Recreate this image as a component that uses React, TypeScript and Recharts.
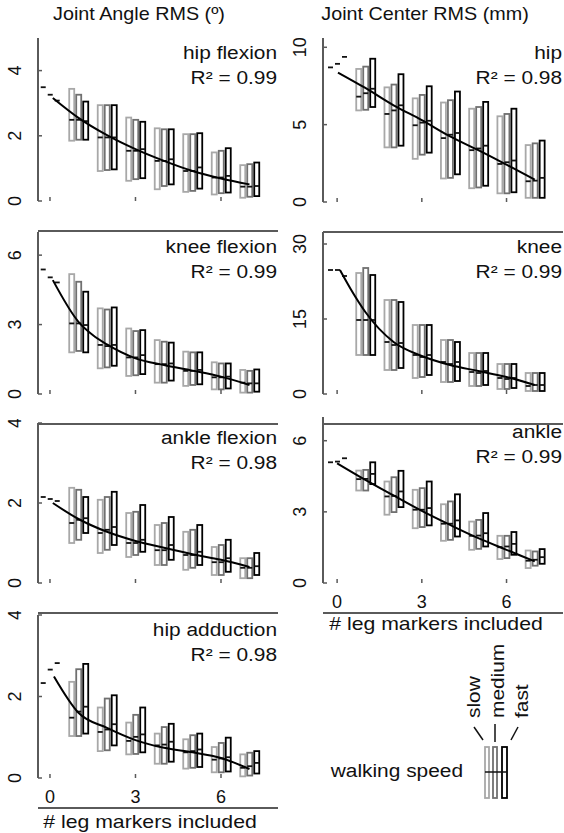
import React from "react";
import { ComposedChart, Bar, Line, XAxis, YAxis } from "recharts";

type Triple = [number, number, number]; // [low, median, high]
type Speed = "slow" | "medium" | "fast";

const FONT = "'Liberation Sans', Arial, Helvetica, sans-serif";
const AXIS = "#5a5a5a";
const INK = "#111";
const SPEED_COLORS: Record<Speed, string> = { slow: "#a8a8a8", medium: "#707070", fast: "#000000" };

const markers = [0, 1, 2, 3, 4, 5, 6, 7];
const xTicks = [0, 3, 6];

// ---- Joint angle RMS (deg) ----
const hipFlexionSlow: Triple[] = [[3.49, 3.49, 3.49], [1.85, 2.49, 3.44], [0.92, 1.95, 2.94], [0.62, 1.54, 2.56], [0.36, 1.23, 2.23], [0.28, 0.92, 2.05], [0.2, 0.72, 1.49], [0.1, 0.44, 1.1]];
const hipFlexionMedium: Triple[] = [[3.26, 3.26, 3.26], [1.88, 2.49, 3.26], [0.95, 1.95, 2.94], [0.67, 1.54, 2.49], [0.46, 1.23, 2.2], [0.31, 0.92, 2.05], [0.24, 0.72, 1.54], [0.13, 0.44, 1.13]];
const hipFlexionFast: Triple[] = [[3.08, 3.08, 3.08], [1.88, 2.45, 3.05], [0.97, 1.95, 2.94], [0.7, 1.59, 2.43], [0.51, 1.28, 2.2], [0.38, 1.03, 2.08], [0.26, 0.77, 1.62], [0.15, 0.46, 1.18]];
const hipFlexionFit = [[0.1, 3.16], [1, 2.55], [2, 2.02], [3, 1.59], [4, 1.23], [5, 0.92], [6, 0.69], [7, 0.51]];

const kneeFlexionSlow: Triple[] = [[5.38, 5.38, 5.38], [1.8, 3.05, 5.18], [1.11, 2.12, 3.7], [0.78, 1.58, 2.83], [0.49, 1.29, 2.33], [0.35, 1.0, 1.83], [0.2, 0.72, 1.37], [0.06, 0.49, 1.04]];
const kneeFlexionMedium: Triple[] = [[5.04, 5.04, 5.04], [1.86, 3.05, 4.85], [1.15, 2.07, 3.65], [0.81, 1.58, 2.72], [0.49, 1.29, 2.26], [0.39, 1.0, 1.8], [0.2, 0.72, 1.32], [0.06, 0.46, 1.0]];
const kneeFlexionFast: Triple[] = [[4.82, 4.82, 4.82], [1.8, 2.98, 4.42], [1.22, 2.12, 3.74], [0.86, 1.68, 2.76], [0.58, 1.32, 2.22], [0.42, 1.04, 1.8], [0.24, 0.75, 1.32], [0.1, 0.46, 1.06]];
const kneeFlexionFit = [[0.1, 4.92], [1, 3.12], [1.5, 2.55], [2, 2.14], [3, 1.54], [4, 1.25], [5, 1.01], [6, 0.75], [7, 0.39]];

const ankleFlexionSlow: Triple[] = [[2.15, 2.15, 2.15], [1.0, 1.5, 2.38], [0.75, 1.25, 2.08], [0.65, 1.0, 1.75], [0.45, 0.82, 1.45], [0.33, 0.7, 1.28], [0.2, 0.52, 0.9], [0.12, 0.38, 0.62]];
const ankleFlexionMedium: Triple[] = [[2.1, 2.1, 2.1], [1.08, 1.58, 2.33], [0.83, 1.33, 2.15], [0.7, 1.0, 1.78], [0.45, 0.82, 1.5], [0.38, 0.7, 1.33], [0.2, 0.52, 0.95], [0.12, 0.38, 0.62]];
const ankleFlexionFast: Triple[] = [[2.05, 2.05, 2.05], [1.25, 1.62, 2.15], [0.95, 1.4, 2.28], [0.78, 1.08, 1.95], [0.58, 0.95, 1.65], [0.45, 0.78, 1.45], [0.28, 0.62, 1.08], [0.2, 0.42, 0.75]];
const ankleFlexionFit = [[0.1, 2.0], [1, 1.6], [2, 1.28], [3, 1.05], [4, 0.88], [5, 0.72], [6, 0.58], [7, 0.4]];

const hipAdductionSlow: Triple[] = [[2.33, 2.33, 2.33], [1.03, 1.48, 2.36], [0.66, 1.13, 1.73], [0.58, 0.91, 1.36], [0.35, 0.8, 1.09], [0.23, 0.63, 0.95], [0.14, 0.45, 0.76], [0.04, 0.25, 0.58]];
const hipAdductionMedium: Triple[] = [[2.66, 2.66, 2.66], [1.03, 1.63, 2.67], [0.68, 1.19, 1.95], [0.59, 1.01, 1.55], [0.35, 0.82, 1.25], [0.25, 0.66, 1.05], [0.14, 0.48, 0.86], [0.06, 0.29, 0.62]];
const hipAdductionFast: Triple[] = [[2.82, 2.82, 2.82], [1.09, 1.75, 2.8], [0.8, 1.32, 2.03], [0.63, 1.07, 1.73], [0.4, 0.89, 1.33], [0.27, 0.7, 1.09], [0.16, 0.51, 0.99], [0.11, 0.37, 0.66]];
const hipAdductionFit = [[0.14, 2.49], [1, 1.6], [2, 1.23], [3, 0.93], [4, 0.74], [5, 0.63], [6, 0.49], [7, 0.22]];

// ---- Joint center RMS (mm) ----
const hipCenterSlow: Triple[] = [[8.7, 8.7, 8.7], [5.92, 6.81, 8.6], [3.53, 5.69, 7.41], [2.79, 4.96, 6.7], [1.52, 4.13, 6.43], [0.89, 3.35, 6.03], [0.56, 2.46, 5.54], [0.27, 1.34, 3.68]];
const hipCenterMedium: Triple[] = [[8.93, 8.93, 8.93], [5.96, 7.03, 8.75], [3.53, 5.92, 7.59], [3.06, 5.13, 6.92], [1.56, 4.35, 6.58], [0.94, 3.46, 6.14], [0.56, 2.57, 5.69], [0.27, 1.38, 3.79]];
const hipCenterFast: Triple[] = [[9.38, 9.38, 9.38], [6.14, 7.32, 9.26], [3.64, 6.25, 8.26], [3.19, 5.25, 7.48], [1.79, 4.46, 7.14], [1.05, 3.64, 6.47], [0.63, 2.68, 6.03], [0.27, 1.56, 3.97]];
const hipCenterFit = [[0.03, 8.37], [1, 7.37], [2, 6.25], [3, 5.29], [4, 4.24], [5, 3.35], [6, 2.41], [7, 1.45]];

const kneeCenterSlow: Triple[] = [[24.8, 24.8, 24.8], [7.8, 14.8, 24.2], [4.8, 10.4, 18.8], [3.2, 7.8, 13.8], [2.4, 6.4, 10.8], [1.6, 4.4, 8.2], [1.0, 3.2, 6.0], [0.6, 1.6, 4.2]];
const kneeCenterMedium: Triple[] = [[24.8, 24.8, 24.8], [7.8, 14.8, 25.2], [4.8, 9.8, 18.8], [3.4, 7.4, 13.8], [2.4, 6.0, 10.8], [1.6, 4.2, 8.2], [1.0, 3.0, 6.0], [0.6, 1.8, 4.2]];
const kneeCenterFast: Triple[] = [[23.6, 23.6, 23.6], [7.8, 14.8, 23.8], [5.2, 10.2, 18.4], [3.8, 7.8, 13.8], [2.6, 6.4, 10.4], [1.8, 4.6, 8.2], [1.2, 3.2, 6.0], [0.6, 1.8, 4.2]];
const kneeCenterFit = [[0.1, 24.8], [0.5, 20.8], [1, 16.4], [2, 10.4], [3, 7.6], [4, 5.8], [5, 4.6], [6, 3.4], [7, 1.8]];

const ankleCenterSlow: Triple[] = [[5.09, 5.09, 5.09], [3.9, 4.38, 4.74], [2.88, 3.65, 4.28], [2.31, 3.09, 3.93], [1.78, 2.5, 3.32], [1.4, 1.99, 2.59], [1.01, 1.51, 1.99], [0.63, 0.94, 1.37]];
const ankleCenterMedium: Triple[] = [[5.12, 5.12, 5.12], [3.9, 4.39, 4.77], [2.99, 3.67, 4.46], [2.36, 3.09, 4.0], [1.82, 2.5, 3.44], [1.44, 2.0, 2.66], [1.05, 1.54, 1.99], [0.73, 0.98, 1.33]];
const ankleCenterFast: Triple[] = [[5.26, 5.26, 5.26], [4.17, 4.6, 5.09], [3.2, 3.86, 4.73], [2.43, 3.16, 4.28], [1.96, 2.64, 3.74], [1.54, 2.1, 2.95], [1.19, 1.65, 2.15], [0.81, 1.09, 1.43]];
const ankleCenterFit = [[0, 5.05], [1, 4.35], [2, 3.69], [3, 3.04], [4, 2.45], [5, 1.89], [6, 1.4], [7, 0.91]];

interface Panel {
  name: string;
  r2: string;
  left: number;
  top: number;
  plotH: number;
  xDomain: [number, number];
  yDomain: [number, number];
  yTicks: number[];
  showX: boolean;
  slow: Triple[];
  medium: Triple[];
  fast: Triple[];
  fit: number[][];
}

const panels: Panel[] = [
  { name: "hip flexion", r2: "0.99", left: 0, top: 38, plotH: 163, xDomain: [-0.42, 8], yDomain: [0, 5], yTicks: [0, 2, 4], showX: false, slow: hipFlexionSlow, medium: hipFlexionMedium, fast: hipFlexionFast, fit: hipFlexionFit },
  { name: "knee flexion", r2: "0.99", left: 0, top: 232, plotH: 162, xDomain: [-0.42, 8], yDomain: [0, 7], yTicks: [0, 3, 6], showX: false, slow: kneeFlexionSlow, medium: kneeFlexionMedium, fast: kneeFlexionFast, fit: kneeFlexionFit },
  { name: "ankle flexion", r2: "0.98", left: 0, top: 423, plotH: 160, xDomain: [-0.42, 8], yDomain: [0, 4], yTicks: [0, 2, 4], showX: false, slow: ankleFlexionSlow, medium: ankleFlexionMedium, fast: ankleFlexionFast, fit: ankleFlexionFit },
  { name: "hip adduction", r2: "0.98", left: 0, top: 615, plotH: 163, xDomain: [-0.42, 8], yDomain: [0, 4], yTicks: [0, 2, 4], showX: true, slow: hipAdductionSlow, medium: hipAdductionMedium, fast: hipAdductionFast, fit: hipAdductionFit },
  { name: "hip", r2: "0.98", left: 285, top: 38, plotH: 164, xDomain: [-0.5, 8], yDomain: [0, 10.6], yTicks: [0, 5, 10], showX: false, slow: hipCenterSlow, medium: hipCenterMedium, fast: hipCenterFast, fit: hipCenterFit },
  { name: "knee", r2: "0.99", left: 285, top: 232, plotH: 162, xDomain: [-0.5, 8], yDomain: [0, 32.4], yTicks: [0, 15, 30], showX: false, slow: kneeCenterSlow, medium: kneeCenterMedium, fast: kneeCenterFast, fit: kneeCenterFit },
  { name: "ankle", r2: "0.99", left: 285, top: 417, plotH: 166, xDomain: [-0.5, 8], yDomain: [0, 7], yTicks: [0, 3, 6], showX: true, slow: ankleCenterSlow, medium: ankleCenterMedium, fast: ankleCenterFast, fit: ankleCenterFit },
];

const CHART_W = 280;
const Y_W = 38;
const X_H = 34;
const M_TOP = 4;
const M_RIGHT = 2;

// text drawn a little wider than the font, like the original figure
function SText({ x, y, size = 18, k = 1.16, anchor = "start", rotate = 0, children }: any) {
  return (
    <text
      transform={`translate(${x} ${y}) rotate(${rotate}) scale(${k} 1)`}
      textAnchor={anchor}
      fontSize={size}
      fontFamily={FONT}
      fill={INK}
    >
      {children}
    </text>
  );
}

// y tick: rotated label left of the axis, short inward tick mark
const YTick = (props: any) => {
  const { y, payload } = props;
  const ax = Y_W;
  const lx = ax - 17;
  return (
    <g>
      <line x1={ax} x2={ax + 4} y1={y} y2={y} stroke={AXIS} strokeWidth={1.5} />
      <text x={lx} y={y} transform={`rotate(-90 ${lx} ${y})`} textAnchor="middle" fontSize={18} fontFamily={FONT} fill={INK}>
        {payload?.value}
      </text>
    </g>
  );
};

// x tick: inward tick mark; label only on the bottom row
const makeXTick = (showLabel: boolean, axisY: number) => (props: any) => {
  const { x, payload } = props;
  return (
    <g>
      <line x1={x} x2={x} y1={axisY} y2={axisY - 4} stroke={AXIS} strokeWidth={1.5} />
      {showLabel ? (
        <text x={x} y={axisY + 25} textAnchor="middle" fontSize={18} fontFamily={FONT} fill={INK}>
          {payload?.value}
        </text>
      ) : null}
    </g>
  );
};

const rangeOf = (speed: Speed) => (d: any) => {
  const t = d && d[speed];
  return t ? [t[0], t[2]] : null;
};

const makeBoxShape = (speed: Speed) => (props: any) => {
  const { x, y, width, height, payload } = props;
  const t = payload ? (payload[speed] as Triple | undefined) : undefined;
  if (!t || !Number.isFinite(x) || !Number.isFinite(y)) return <g />;
  const [lo, med, hi] = t;
  const h = Math.abs(height || 0);
  const top = Math.min(y, y + (height || 0));
  const my = hi === lo ? top : top + (h * (hi - med)) / (hi - lo);
  return (
    <g>
      {h > 0 ? (
        <rect x={x} y={top} width={width} height={h} fill="none" stroke={SPEED_COLORS[speed]} strokeWidth={1.8} />
      ) : null}
      <line x1={x} x2={x + width} y1={my} y2={my} stroke={INK} strokeWidth={1.8} />
    </g>
  );
};

function PanelChart({ p }: { p: Panel }) {
  const data = markers.map((n, i) => ({ n, slow: p.slow[i], medium: p.medium[i], fast: p.fast[i] }));
  const fitData = p.fit.map(([n, v]) => ({ n, fit: v }));
  const height = M_TOP + p.plotH + X_H;
  return (
    <div style={{ position: "absolute", left: p.left, top: p.top - M_TOP }}>
      <ComposedChart width={CHART_W} height={height} data={data} margin={{ top: M_TOP, right: M_RIGHT, left: 0, bottom: 0 }} barGap={2}>
        <XAxis
          xAxisId="main"
          type="number"
          dataKey="n"
          domain={p.xDomain}
          ticks={xTicks}
          interval={0}
          allowDataOverflow
          height={X_H}
          tickSize={0}
          tickLine={false}
          axisLine={{ stroke: AXIS, strokeWidth: 2 }}
          tick={makeXTick(p.showX, M_TOP + p.plotH)}
        />
        <XAxis xAxisId="fit" type="number" dataKey="n" domain={p.xDomain} allowDataOverflow hide />
        <YAxis
          type="number"
          domain={p.yDomain}
          ticks={p.yTicks}
          interval={0}
          allowDataOverflow
          width={Y_W}
          tickSize={0}
          tickLine={false}
          axisLine={{ stroke: AXIS, strokeWidth: 2 }}
          tick={YTick}
        />
        <Bar xAxisId="main" dataKey={rangeOf("slow")} barSize={5} shape={makeBoxShape("slow")} isAnimationActive={false} />
        <Bar xAxisId="main" dataKey={rangeOf("medium")} barSize={5} shape={makeBoxShape("medium")} isAnimationActive={false} />
        <Bar xAxisId="main" dataKey={rangeOf("fast")} barSize={5} shape={makeBoxShape("fast")} isAnimationActive={false} />
        <Line xAxisId="fit" data={fitData} dataKey="fit" type="monotone" stroke="#000" strokeWidth={2} dot={false} isAnimationActive={false} />
      </ComposedChart>
    </div>
  );
}

export default function App() {
  return (
    <div style={{ position: "absolute", left: 0, top: 0, width: 564, height: 833, background: "#fff", overflow: "hidden" }}>
      {panels.map((p) => (
        <PanelChart key={p.name + p.left} p={p} />
      ))}
      <svg width={564} height={833} style={{ position: "absolute", left: 0, top: 0, pointerEvents: "none" }}>
        <SText x={139} y={20} size={19} k={1.04} anchor="middle">Joint Angle RMS (º)</SText>
        <SText x={425} y={20} size={19} k={1.04} anchor="middle">Joint Center RMS (mm)</SText>
        {panels.map((p) => {
          const right = p.left + CHART_W - M_RIGHT - 1;
          return (
            <g key={"lbl" + p.name + p.left}>
              <SText x={right} y={p.top + 21} anchor="end">{p.name}</SText>
              <SText x={right} y={p.top + 46} anchor="end">{`R² = ${p.r2}`}</SText>
            </g>
          );
        })}
        <SText x={150} y={828} k={1.18} anchor="middle"># leg markers included</SText>
        <SText x={436} y={630} k={1.18} anchor="middle"># leg markers included</SText>
        {/* walking speed legend */}
        <SText x={463} y={777} anchor="end">walking speed</SText>
        <rect x={485} y={747} width={4} height={51} fill="none" stroke={SPEED_COLORS.slow} strokeWidth={1.8} />
        <rect x={493} y={747} width={4} height={51} fill="none" stroke={SPEED_COLORS.medium} strokeWidth={1.8} />
        <rect x={502} y={747} width={5} height={51} fill="none" stroke={SPEED_COLORS.fast} strokeWidth={1.8} />
        <line x1={485} x2={507} y1={772} y2={772} stroke={INK} strokeWidth={1.5} />
        <line x1={474} y1={727} x2={483} y2={740} stroke={INK} strokeWidth={1.5} />
        <line x1={495} y1={724} x2={495} y2={742} stroke={INK} strokeWidth={1.5} />
        <line x1={518} y1={727} x2={511} y2={740} stroke={INK} strokeWidth={1.5} />
        <SText x={480} y={718} rotate={-90}>slow</SText>
        <SText x={504} y={718} rotate={-90}>medium</SText>
        <SText x={528} y={718} rotate={-90}>fast</SText>
      </svg>
    </div>
  );
}
